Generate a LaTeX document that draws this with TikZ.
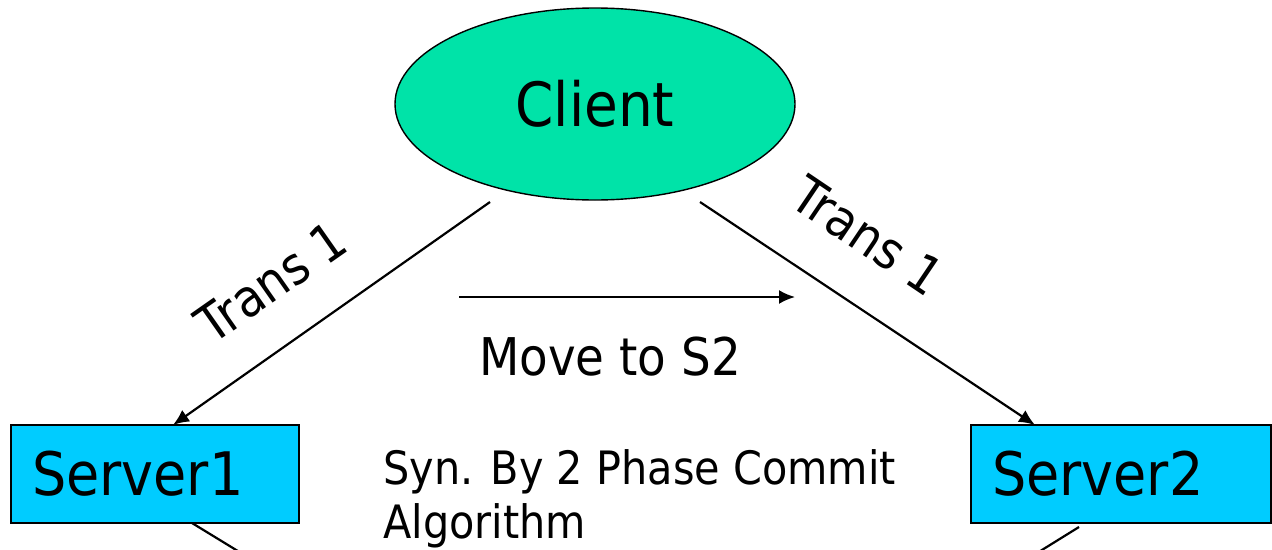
\documentclass[tikz,border=0pt]{standalone}
\usepackage{fontspec}
\setmainfont{DejaVu Sans}[FakeStretch=0.9]
\usetikzlibrary{arrows.meta,shapes.geometric}

\definecolor{clientfill}{RGB}{0,227,168}
\definecolor{serverfill}{RGB}{0,204,255}

\tikzset{
  clientnode/.style={ellipse, draw=black, line width=1.4pt, fill=clientfill,
    minimum width=400pt, minimum height=192pt, inner sep=0pt,
    font=\fontsize{61}{70}\selectfont},
  servernode/.style={rectangle, draw=black, line width=2.4pt, fill=serverfill,
    minimum height=98pt, inner xsep=21pt, inner ysep=0pt, align=left,
    font=\fontsize{60}{70}\selectfont},
  link/.style={draw=black, line width=2.2pt},
  linkarrow/.style={link, -{Latex[length=16pt,width=14pt]}},
  labeltext/.style={inner sep=0pt, font=\fontsize{52}{60}\selectfont},
}

\begin{document}
\begin{tikzpicture}[x=1pt, y=-1pt]
  \useasboundingbox (0,0) rectangle (1272,549);
  \clip (0,0) rectangle (1272,549);

  % main nodes
  \node[clientnode] (client) at (595,104) {Client};
  \node[servernode, text width=246pt] (s1) at (155,474) {Server1};
  \node[servernode, text width=258pt] (s2) at (1121,474) {Server2};

  % connector end points
  \coordinate (c1) at (490,202);
  \coordinate (c2) at (700,202);
  \coordinate (e1) at (173,425);
  \coordinate (e2) at (1035,425);
  \coordinate (m1) at (459,297);
  \coordinate (m2) at (795,297);
  \coordinate (d1a) at (192,523);
  \coordinate (d1b) at (282,578);
  \coordinate (d2a) at (1079,527);
  \coordinate (d2b) at (1000,576);

  % client to servers
  \draw[linkarrow] (c1) -- (e1);
  \draw[linkarrow] (c2) -- (e2);
  % migration arrow
  \draw[linkarrow] (m1) -- (m2);
  % links leaving the servers downwards
  \draw[link] (d1a) -- (d1b);
  \draw[link] (d2a) -- (d2b);

  % labels
  \node[labeltext, rotate=35] (lt1) at (271,282) {Trans 1};
  \node[labeltext, rotate=-34] (lt2) at (868,236) {Trans 1};
  \node[labeltext, anchor=base] (mv) at (610,375) {Move to S2};
  \node[inner sep=0pt, anchor=north west, align=left,
        font=\fontsize{46}{54}\selectfont] (syn) at (383,449)
        {Syn. By 2 Phase Commit\\Algorithm};
\end{tikzpicture}
\end{document}
